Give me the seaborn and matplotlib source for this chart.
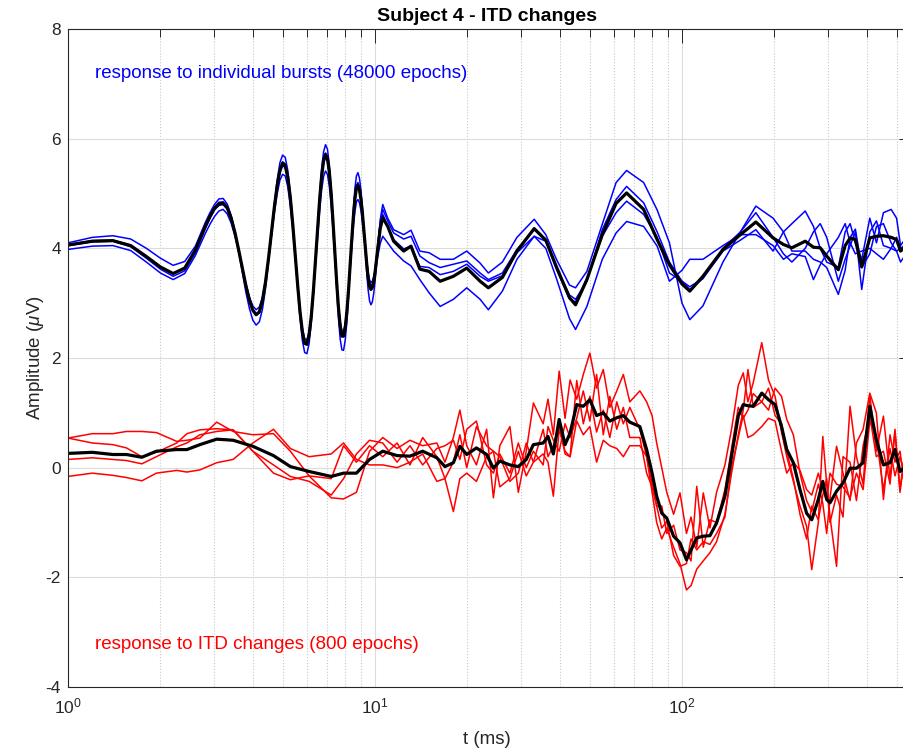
import numpy as np
import pandas as pd
import matplotlib
matplotlib.use("Agg")
import matplotlib.pyplot as plt
import seaborn as sns
from matplotlib.ticker import LogLocator, FixedLocator

# ---------------- data ----------------
# response to individual bursts
t_burst = [1.0, 1.2, 1.4, 1.6, 1.8, 2.0, 2.2, 2.4, 2.6, 2.8, 2.9,
           3.0, 3.1, 3.2, 3.3, 3.4, 3.5, 3.6, 3.7, 3.8, 3.9,
           4.0, 4.1, 4.2, 4.3, 4.4, 4.5, 4.6, 4.7, 4.8, 4.9,
           5.0, 5.1, 5.2, 5.3, 5.4, 5.5, 5.6, 5.7, 5.8, 5.9,
           6.0, 6.1, 6.2, 6.3, 6.4, 6.5, 6.6, 6.7, 6.8, 6.9,
           7.0, 7.1, 7.2, 7.3, 7.4, 7.5, 7.6, 7.7, 7.8, 7.9,
           8.0, 8.1, 8.2, 8.3, 8.4, 8.5, 8.6, 8.7, 8.8, 8.9,
           9.0, 9.1, 9.2, 9.3, 9.4, 9.5, 9.6, 9.7, 9.8, 9.9,
           10.0, 10.2, 10.4, 10.6,
           11, 11.5, 12.4, 13.1, 14, 15, 16.3, 18, 19.9, 22, 23.4, 26, 29, 33, 36,
           39, 43, 45, 49, 55, 61, 66, 75, 83, 91,
           100, 106, 117, 136, 155, 174, 198, 214, 228, 252, 268, 282, 296, 323, 340, 353, 367,
           385, 409, 430, 453, 480, 500, 515, 530]

burst_mean = [4.06, 4.13, 4.14, 4.05, 3.85, 3.66, 3.54, 3.64, 3.97, 4.40, 4.58,
              4.73, 4.81, 4.82, 4.74, 4.55, 4.28, 3.96, 3.63, 3.31, 3.05,
              2.87, 2.79, 2.84, 3.05, 3.39, 3.82, 4.29, 4.75, 5.14, 5.42,
              5.55, 5.51, 5.29, 4.92, 4.42, 3.87, 3.32, 2.84, 2.48, 2.27,
              2.25, 2.42, 2.76, 3.23, 3.78, 4.35, 4.88, 5.31, 5.60, 5.71,
              5.64, 5.39, 4.99, 4.48, 3.93, 3.39, 2.93, 2.59, 2.40, 2.40,
              2.55, 2.85, 3.24, 3.70, 4.16, 4.57, 4.90, 5.10, 5.15, 5.07,
              4.89, 4.64, 4.33, 4.01, 3.71, 3.46, 3.31, 3.25, 3.29, 3.39,
              3.55, 3.97, 4.36, 4.56,
              4.40, 4.13, 3.95, 4.04, 3.62, 3.58, 3.40, 3.49, 3.64, 3.40, 3.28, 3.47, 3.95, 4.36,
              4.15, 3.66, 3.10, 2.97, 3.43, 4.25, 4.82, 5.01, 4.71, 4.16, 3.70,
              3.35, 3.22, 3.49, 3.98, 4.25, 4.48, 4.19, 4.07, 4.01, 4.13, 4.02, 4.01, 3.86, 3.61,
              4.05, 4.19, 4.16, 3.66, 4.19, 4.22, 4.23, 4.20, 4.16, 3.95, 4.01]

burst_1 = [4.10, 4.20, 4.23, 4.17, 4.00, 3.82, 3.69, 3.76, 4.04, 4.47, 4.65,
           4.80, 4.90, 4.91, 4.81, 4.60, 4.30, 3.93, 3.55, 3.19, 2.90,
           2.69, 2.60, 2.66, 2.89, 3.27, 3.76, 4.29, 4.80, 5.24, 5.56,
           5.70, 5.66, 5.42, 5.00, 4.46, 3.86, 3.25, 2.72, 2.32, 2.10,
           2.08, 2.26, 2.64, 3.15, 3.76, 4.39, 4.97, 5.45, 5.76, 5.89,
           5.81, 5.52, 5.08, 4.50, 3.88, 3.27, 2.74, 2.35, 2.15, 2.14,
           2.33, 2.67, 3.13, 3.67, 4.21, 4.70, 5.09, 5.32, 5.38, 5.28,
           5.06, 4.73, 4.34, 3.93, 3.55, 3.24, 3.04, 2.97, 3.02, 3.17,
           3.39, 3.97, 4.52, 4.80,
           4.55, 4.34, 4.25, 4.33, 3.95, 3.92, 3.80, 3.80, 3.95, 3.73, 3.55, 3.75, 4.20, 4.53,
           4.25, 3.80, 3.33, 3.28, 3.58, 4.44, 5.20, 5.42, 5.20, 4.70, 4.10,
           3.00, 2.70, 2.95, 3.75, 4.30, 4.77, 4.55, 4.30, 3.95, 3.95, 3.80, 3.75, 3.65, 3.16,
           3.60, 4.20, 4.35, 3.65, 3.90, 4.40, 4.45, 4.10, 3.95, 3.75, 3.85]

burst_2 = [4.07, 4.14, 4.15, 4.06, 3.86, 3.66, 3.54, 3.64, 3.98, 4.42, 4.60,
           4.75, 4.84, 4.85, 4.77, 4.58, 4.30, 3.97, 3.64, 3.32, 3.06,
           2.88, 2.80, 2.85, 3.06, 3.40, 3.84, 4.32, 4.78, 5.17, 5.45,
           5.58, 5.54, 5.32, 4.95, 4.44, 3.88, 3.33, 2.85, 2.50, 2.29,
           2.27, 2.44, 2.78, 3.24, 3.79, 4.37, 4.91, 5.34, 5.63, 5.74,
           5.67, 5.42, 5.02, 4.50, 3.94, 3.40, 2.94, 2.60, 2.41, 2.42,
           2.57, 2.87, 3.26, 3.72, 4.19, 4.61, 4.94, 5.15, 5.20, 5.12,
           4.93, 4.67, 4.35, 4.02, 3.72, 3.46, 3.31, 3.25, 3.30, 3.42,
           3.60, 4.06, 4.48, 4.71,
           4.50, 4.28, 4.17, 4.22, 3.86, 3.74, 3.65, 3.71, 3.77, 3.55, 3.43, 3.55, 3.98, 4.34,
           4.15, 3.65, 3.15, 3.07, 3.40, 4.34, 4.89, 5.13, 4.83, 4.30, 3.75,
           3.40, 3.25, 3.45, 4.00, 4.30, 4.65, 4.20, 3.90, 3.75, 4.00, 4.30, 4.45, 4.20, 3.40,
           3.80, 4.05, 4.30, 3.25, 4.30, 4.50, 4.05, 4.00, 4.20, 4.00, 4.05]

burst_3 = [4.05, 4.12, 4.13, 4.03, 3.82, 3.62, 3.49, 3.59, 3.92, 4.36, 4.55,
           4.70, 4.78, 4.80, 4.72, 4.53, 4.26, 3.94, 3.62, 3.30, 3.04,
           2.86, 2.78, 2.83, 3.03, 3.37, 3.79, 4.26, 4.71, 5.10, 5.38,
           5.51, 5.47, 5.26, 4.89, 4.40, 3.86, 3.31, 2.83, 2.47, 2.26,
           2.24, 2.41, 2.74, 3.21, 3.75, 4.31, 4.84, 5.26, 5.55, 5.66,
           5.59, 5.35, 4.95, 4.45, 3.91, 3.38, 2.92, 2.58, 2.39, 2.39,
           2.54, 2.84, 3.22, 3.67, 4.12, 4.53, 4.86, 5.07, 5.12, 5.05,
           4.88, 4.64, 4.35, 4.05, 3.76, 3.52, 3.38, 3.32, 3.35, 3.45,
           3.60, 4.00, 4.38, 4.62,
           4.40, 4.16, 3.99, 4.04, 3.67, 3.65, 3.52, 3.58, 3.71, 3.49, 3.40, 3.50, 3.92, 4.22,
           4.13, 3.62, 3.08, 3.02, 3.45, 4.22, 4.65, 4.86, 4.62, 4.20, 3.55,
           3.40, 3.30, 3.45, 3.95, 4.15, 4.34, 3.95, 4.30, 4.45, 4.68, 4.40, 4.00, 3.75, 3.65,
           4.30, 4.45, 4.10, 3.80, 4.55, 4.10, 4.65, 4.71, 4.55, 4.05, 4.15]

burst_4 = [3.98, 4.04, 4.05, 3.96, 3.75, 3.55, 3.43, 3.54, 3.87, 4.27, 4.44,
           4.58, 4.68, 4.71, 4.63, 4.46, 4.22, 3.93, 3.63, 3.35, 3.11,
           2.95, 2.88, 2.93, 3.11, 3.42, 3.80, 4.23, 4.64, 4.99, 5.24,
           5.35, 5.32, 5.12, 4.77, 4.32, 3.82, 3.31, 2.87, 2.54, 2.35,
           2.33, 2.48, 2.78, 3.20, 3.69, 4.20, 4.67, 5.06, 5.31, 5.41,
           5.35, 5.13, 4.78, 4.33, 3.85, 3.37, 2.96, 2.66, 2.50, 2.50,
           2.63, 2.89, 3.23, 3.63, 4.03, 4.39, 4.67, 4.85, 4.89, 4.83,
           4.69, 4.48, 4.24, 3.98, 3.74, 3.55, 3.42, 3.38, 3.40, 3.47,
           3.57, 3.84, 4.09, 4.22,
           4.10, 3.95, 3.77, 3.68, 3.43, 3.19, 2.94, 3.07, 3.28, 3.07, 2.88, 3.22, 3.80, 4.22,
           4.00, 3.45, 2.72, 2.52, 2.94, 3.80, 4.28, 4.49, 4.40, 4.04, 3.40,
           3.60, 3.80, 3.80, 4.05, 4.25, 4.25, 4.05, 3.80, 3.90, 3.85, 3.43, 3.70, 3.90, 4.20,
           4.45, 4.10, 3.90, 3.95, 4.00, 3.90, 3.80, 4.00, 3.95, 4.00, 3.99]

# response to ITD changes
t_itd = [1.0, 1.2, 1.4, 1.55, 1.74, 1.94, 2.26, 2.44, 2.69, 3.05, 3.45, 4.0, 4.67, 5.3, 6.1,
         7.2, 7.9, 8.7, 9.6,
         10.6, 11.8, 13.0, 14.3, 15.9, 16.9, 18.0, 18.9, 19.9, 21.4, 23.1, 24.3, 25.5, 27.5,
         29.3, 31.1, 32.8, 35.3, 36.6, 38.1, 39.8, 41.6, 43.2, 45.4, 47.7, 50.1, 52.7, 55.4,
         58.2, 61.3, 64.4, 67.6, 72.9, 76.7, 79.9, 82.7, 85.9, 89.2,
         93.9, 98.5, 103.4, 107, 111.7, 117.3, 123.3, 129.6, 138, 145, 152.5, 158.3, 164,
         170.6, 181.9, 191.3, 201, 211, 219.4, 230.5, 242.3, 254.6, 264.6, 278, 287.5, 296,
         303.5, 318.7, 334.6, 352.6, 370, 389, 409, 429.5, 453, 476, 494, 513, 528]

itd_mean = [0.26, 0.28, 0.24, 0.24, 0.19, 0.30, 0.33, 0.33, 0.42, 0.52, 0.50, 0.39, 0.22,
            0.02, -0.07, -0.16, -0.10, -0.10, 0.15,
            0.30, 0.22, 0.21, 0.30, 0.18, 0.02, 0.09, 0.39, 0.24, 0.36, 0.24, -0.01, 0.12, 0.05,
            0.02, 0.15, 0.42, 0.45, 0.57, 0.25, 0.88, 0.42, 0.63, 1.15, 1.12, 1.24, 0.95, 1.00,
            0.85, 0.91, 0.95, 0.83, 0.75, 0.33, -0.10, -0.52, -0.83, -0.92,
            -1.25, -1.37, -1.68, -1.50, -1.28, -1.25, -1.24, -1.01, -0.52, 0.21, 0.94, 1.15,
            1.13, 1.12, 1.36, 1.24, 1.15, 0.75, 0.33, 0.09, -0.40, -0.83, -0.95, -0.58, -0.25,
            -0.58, -0.64, -0.43, -0.28, -0.01, -0.01, 0.09, 1.12, 0.51, 0.05, 0.09, 0.33,
            -0.07, -0.01]

itd_1 = [0.54, 0.62, 0.62, 0.66, 0.66, 0.64, 0.48, 0.50, 0.54, 0.83, 0.66, 0.60, 0.62, 0.30,
         -0.15, -0.55, -0.57, -0.45, 0.30,
         0.55, 0.35, 0.50, 0.40, 0.45, 0.10, 0.55, 1.05, 0.40, 0.05, 0.70, -0.55, 0.40, 0.75,
         -0.45, 0.30, 1.18, 0.80, 1.25, 0.60, 1.76, 0.90, 1.60, 1.25, 1.70, 2.09, 1.45, 1.79,
         1.10, 1.40, 1.70, 1.20, 1.40, 1.20, 0.95, 0.45, 0.00, -0.45,
         -0.85, -0.46, -1.20, -0.90, -1.45, -0.46, -1.10, -0.45, 0.05, 0.70, 1.50, 1.73, 1.20,
         1.55, 2.28, 1.60, 1.30, 0.65, 0.20, -0.25, -0.70, -1.07, -1.86, -1.00, 0.57, -0.30,
         -1.00, -0.50, -0.90, 1.12, 0.20, -0.30, 1.33, 0.30, 0.94, -0.20, 0.70, -0.40, 0.15]

itd_2 = [0.54, 0.45, 0.42, 0.36, 0.20, 0.28, 0.45, 0.62, 0.69, 0.71, 0.69, 0.30, -0.10, -0.22,
         -0.15, -0.20, 0.40, 0.10, 0.40,
         0.20, 0.45, 0.05, 0.55, 0.20, -0.20, 0.10, 0.60, 0.00, 0.75, 0.40, 0.30, -0.35, -0.20,
         0.30, -0.15, 0.10, 0.70, 0.20, 0.40, 0.80, 0.25, 0.20, 1.59, 0.80, 1.30, 0.65, 1.05,
         0.55, 1.20, 0.80, 1.10, 0.70, 0.20, -0.45, -1.00, -1.30, -1.10,
         -1.45, -1.75, -2.23, -2.15, -1.85, -1.70, -1.55, -1.35, -0.85, -0.10, 0.60, 1.05, 1.79,
         1.10, 1.20, 1.05, 1.45, 1.30, 0.88, 0.60, -0.10, -0.60, -0.80, -0.30, -0.65, -1.20,
         -0.55, 0.39, -0.10, -0.60, 0.45, 0.70, 1.36, 1.00, -0.58, 0.60, 0.10, 0.30, -0.25]

itd_3 = [0.15, 0.18, 0.15, 0.13, 0.07, 0.20, 0.38, 0.45, 0.60, 0.66, 0.69, 0.30, 0.05, -0.16,
         -0.25, -0.50, -0.20, 0.25, 0.50,
         0.45, 0.10, 0.40, 0.05, 0.35, 0.40, 0.50, 0.15, 0.70, 0.85, 0.05, -0.10, 0.25, -0.10,
         0.45, 0.00, 0.30, 0.05, 0.75, 0.50, 0.30, 0.80, 0.55, 0.90, 1.40, 0.85, 1.70, 0.60,
         1.30, 0.70, 1.10, 0.55, 0.55, -0.10, -0.35, -0.70, -0.70, -1.20,
         -1.05, -1.50, -1.55, -1.70, -0.34, -1.45, -0.95, -1.00, -0.40, 0.35, 1.10, 0.90, 1.05,
         1.35, 1.20, 1.45, 0.95, 0.80, 0.30, -0.20, -0.85, -1.30, -0.70, -0.95, -0.50, -0.20,
         -0.90, -1.80, 0.20, 0.10, -0.60, 0.40, 0.95, 0.20, 0.30, -0.30, 0.65, -0.45, 0.10]

itd_4 = [-0.16, -0.10, -0.14, -0.18, -0.24, -0.10, -0.05, -0.08, -0.04, 0.09, 0.15, 0.45, 0.70,
         0.35, 0.20, 0.25, 0.45, 0.15, 0.05,
         0.05, 0.00, 0.10, 0.25, -0.25, -0.20, -0.80, -0.20, -0.10, -0.25, 0.20, 0.30, 0.20,
         -0.25, -0.10, 0.45, 0.10, 0.25, 0.10, -0.52, 0.70, 0.30, 0.20, 0.85, 0.60, 0.75, 0.10,
         0.50, 0.40, 0.35, 0.20, 0.40, 0.40, 0.20, -0.30, -0.70, -1.10, -0.98,
         -1.60, -1.80, -1.75, -1.30, -1.50, -1.35, -1.40, -1.20, -0.90, 0.00, 0.55, 0.95, 0.55,
         0.60, 0.75, 0.90, 0.85, 0.30, -0.10, 0.10, -0.05, -0.40, -0.50, -0.10, -0.40, -0.60,
         -0.10, -0.30, -0.35, -0.55, -0.10, -0.40, 0.85, 0.55, -0.40, 0.35, -0.15, 0.20, -0.05]

y_ticks = [-4, -2, 0, 2, 4, 6, 8]
title = "Subject 4 - ITD changes"
label_burst = "response to individual bursts (48000 epochs)"
label_itd = "response to ITD changes (800 epochs)"

# ---------------- style ----------------
sns.set_theme(style="white")
plt.rcParams["font.family"] = ["Liberation Sans", "DejaVu Sans"]
plt.rcParams["mathtext.fontset"] = "custom"
plt.rcParams["mathtext.rm"] = "Liberation Sans"
plt.rcParams["mathtext.it"] = "Liberation Sans:italic"
plt.rcParams["axes.unicode_minus"] = False

W, H = 904, 754
fig = plt.figure(figsize=(W / 100, H / 100), dpi=100)
ax = fig.add_axes([68 / W, (H - 687) / H, (906 - 68) / W, (687 - 29) / H])

# individual traces first, then means
for vals in (burst_1, burst_2, burst_3, burst_4):
    sns.lineplot(x=t_burst, y=vals, ax=ax, color="#0000ff", linewidth=1.1,
                 estimator=None, sort=False)
sns.lineplot(x=t_burst, y=burst_mean, ax=ax, color="black", linewidth=2.3,
             estimator=None, sort=False)
for vals in (itd_1, itd_2, itd_3, itd_4):
    sns.lineplot(x=t_itd, y=vals, ax=ax, color="#ff0000", linewidth=1.1,
                 estimator=None, sort=False)
sns.lineplot(x=t_itd, y=itd_mean, ax=ax, color="black", linewidth=2.3,
             estimator=None, sort=False)

ax.set_xscale("log")
ax.set_xlim(1, 10 ** ((906 - 68) / 307))
ax.set_ylim(-4, 8)
ax.yaxis.set_major_locator(FixedLocator(y_ticks))
ax.xaxis.set_major_locator(LogLocator(base=10, numticks=10))
ax.xaxis.set_minor_locator(LogLocator(base=10, subs=np.arange(2, 10), numticks=20))

dark = "#262626"
for sp in ax.spines.values():
    sp.set_color(dark)
    sp.set_linewidth(0.8)
ax.tick_params(which="both", direction="in", top=True, right=True, colors=dark,
               labelsize=12.5, width=0.7)
ax.tick_params(axis="x", which="major", length=10, pad=7)
ax.tick_params(axis="x", which="minor", length=6)
ax.tick_params(axis="y", which="major", length=5, pad=5)

ax.grid(which="major", axis="both", color="#dcdcdc", linestyle="-", linewidth=0.8)
ax.grid(which="minor", axis="x", color="#c8c8c8", linestyle=":", linewidth=0.8)
ax.set_axisbelow(True)

ax.set_title(title, fontsize=14, fontweight="bold", color="black", pad=6)
ax.set_xlabel("t (ms)", fontsize=13.5, color=dark, labelpad=10)
ax.set_ylabel(r"Amplitude ($\mu$V)", fontsize=13.5, color=dark, labelpad=0)

ax.text(0.032, 0.932, label_burst, transform=ax.transAxes, color="#0000ff",
        fontsize=13.5, va="center", ha="left")
ax.text(0.032, 0.065, label_itd, transform=ax.transAxes, color="#ff0000",
        fontsize=13.5, va="center", ha="left")

fig.savefig("out.png", dpi=100)
